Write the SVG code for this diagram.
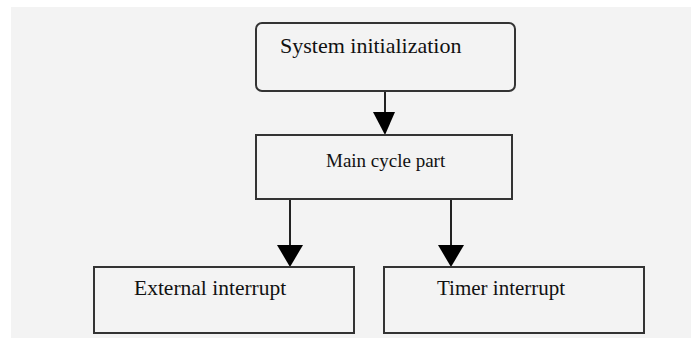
<svg xmlns="http://www.w3.org/2000/svg" width="691" height="338" viewBox="0 0 691 338">
<style>
.box{fill:#f3f3f3;stroke:#333;stroke-width:2}
.lbl{font-family:"Liberation Serif","Times New Roman",serif;fill:#111}
.conn{stroke:#222;stroke-width:2;fill:none}
.head{fill:#000}
</style>
<rect x="0" y="0" width="691" height="338" fill="#ffffff"/>
<rect x="11" y="7" width="680" height="331" fill="#f3f3f3"/>
<g id="connectors">
<line class="conn" x1="385" y1="91" x2="385" y2="114"/>
<polygon class="head" points="373,112 395,112 385,135"/>
<line class="conn" x1="290" y1="199" x2="290" y2="247"/>
<polygon class="head" points="277,245 303,245 290,267"/>
<line class="conn" x1="451" y1="199" x2="451" y2="247"/>
<polygon class="head" points="438,245 464,245 451,267"/>
</g>
<g id="node-init">
<rect class="box" x="256" y="23" width="259" height="68" rx="6"/>
<text class="lbl" x="280" y="53" font-size="22">System initialization</text>
</g>
<g id="node-main">
<rect class="box" x="256" y="135" width="256" height="64"/>
<text class="lbl" x="326" y="167" font-size="19">Main cycle part</text>
</g>
<g id="node-ext">
<rect class="box" x="94" y="267" width="260" height="66"/>
<text class="lbl" x="134" y="295" font-size="21.5">External interrupt</text>
</g>
<g id="node-timer">
<rect class="box" x="384" y="267" width="260" height="66"/>
<text class="lbl" x="437" y="295" font-size="21">Timer interrupt</text>
</g>
</svg>
